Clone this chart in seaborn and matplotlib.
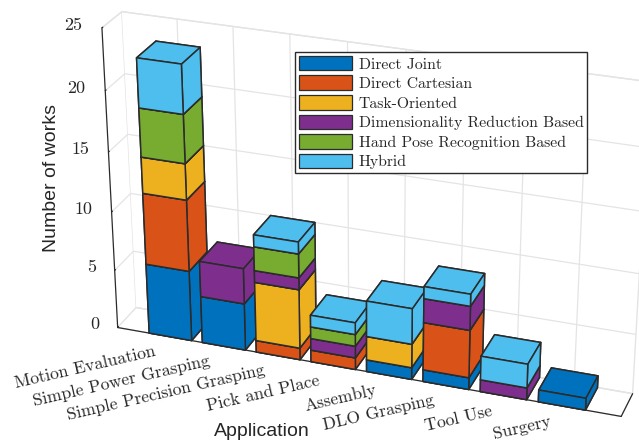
import matplotlib
matplotlib.use('Agg')
import matplotlib.pyplot as plt
from matplotlib.patches import Patch
from mpl_toolkits.mplot3d import proj3d
import seaborn as sns
import numpy as np

categories = ['Motion Evaluation', 'Simple Power Grasping', 'Simple Precision Grasping',
              'Pick and Place', 'Assembly', 'DLO Grasping', 'Tool Use', 'Surgery']
series_names = ['Direct Joint', 'Direct Cartesian', 'Task-Oriented',
                'Dimensionality Reduction Based', 'Hand Pose Recognition Based', 'Hybrid']
direct_joint = [6, 4, 0, 0, 1, 1, 0, 1]
direct_cartesian = [6, 0, 1, 1, 0, 4, 0, 0]
task_oriented = [3, 0, 5, 0, 2, 0, 0, 0]
dim_reduction = [0, 3, 1, 1, 0, 2, 1, 0]
hand_pose = [4, 0, 2, 1, 0, 0, 0, 0]
hybrid = [4, 0, 1, 1, 3, 1, 2, 0]
z_ticks = [0, 5, 10, 15, 20, 25]
colors = ['#0072BD', '#D95319', '#EDB120', '#7E2F8E', '#77AC30', '#4DBEEE']

edge = '#2b2b2b'
text_color = '#262626'
serif = 'cmr10'

sns.set_theme(style='white', rc={'grid.color': '#e4e4e4', 'grid.linewidth': 0.9,
                                 'axes.unicode_minus': False,
                                 'xtick.bottom': True, 'ytick.left': True,
                                 'xtick.color': edge, 'ytick.color': edge,
                                 'xtick.major.width': 0.8, 'ytick.major.width': 0.8})
sns.set_palette(colors)
palette = sns.color_palette()

fig = plt.figure(figsize=(6.39, 4.42), dpi=100)
ax = fig.add_axes([0.0676, 0.0075, 1, 1], projection='3d', computed_zorder=False)
ax.view_init(elev=26, azim=-70.5)
ax.set_proj_type('persp')
ax._dist = 30
ax.set_box_aspect((550, 47.4, 342), zoom=4.25)
ax.patch.set_alpha(0)

table = np.array([direct_joint, direct_cartesian, task_oriented, dim_reduction, hand_pose, hybrid])
order = 10
for i in range(len(categories)):
    bottom = 0
    for j in range(len(series_names)):
        v = table[j, i]
        if v == 0:
            continue
        bars = ax.bar3d(i + 0.6, 0, bottom, 0.8, 1, v, color=palette[j], shade=False,
                        edgecolor=edge, linewidth=1.1, zorder=order)
        bars.set_clip_on(False)
        bottom += v
        order += 1

ax.set_xlim(0, 9, view_margin=0)
ax.set_ylim(0, 1, view_margin=0)
ax.set_zlim(0, 25, view_margin=0)
ax.set_xticks(range(1, 9), [''] * 8)
ax.set_yticks([])
ax.set_zticks(z_ticks, [''] * len(z_ticks))
ax.zaxis.set_ticks_position('lower')
ax.grid(True)
for a in (ax.xaxis, ax.yaxis, ax.zaxis):
    a.set_pane_color((1, 1, 1, 1))
    a.pane.set_edgecolor('#e4e4e4')
    a.line.set_color(edge)
    a.line.set_linewidth(0.9)
    a._axinfo['tick']['inward_factor'] = 0
    a.set_tick_params(which='major', tick1On=True)
ax.xaxis._axinfo['tick']['outward_factor'] = 12
ax.zaxis._axinfo['tick']['outward_factor'] = 0.6


def label_at(x, y, z, s, **kw):
    # native tick label pad does not go where it should, so project the spot by hand
    px, py, _ = proj3d.proj_transform(x, y, z, ax.get_proj())
    ax.text2D(px, py, s, transform=ax.transData, family=serif, color=text_color,
              ha='right', va='center', **kw)


for i, name in enumerate(categories):
    label_at(i + 1 - 0.04, -0.69, 0, name, rotation=13, rotation_mode='anchor', fontsize=12.65)
for t in z_ticks:
    label_at(-0.36, 0, t, str(t), fontsize=13)

fig.text(262 / 639, 1 - 432 / 442, 'Application', ha='center', va='center',
         family='Liberation Sans', fontsize=14, color=text_color)
fig.text(52 / 639, 1 - 178 / 442, 'Number of works', ha='center', va='center', rotation=90,
         family='Liberation Sans', fontsize=14, color=text_color)

handles = [Patch(facecolor=c, edgecolor=edge, linewidth=0.9) for c in palette]
fig.legend(handles, series_names, loc='upper left', bbox_to_anchor=(295 / 639, 1 - 52 / 442),
           borderaxespad=0, frameon=True, fancybox=False, framealpha=1, edgecolor=edge,
           prop={'family': serif, 'size': 11.3}, labelcolor=text_color, handlelength=3.4, handleheight=1.05,
           handletextpad=0.4, labelspacing=0.25, borderpad=0.25)

fig.savefig('out.png', dpi=100)
